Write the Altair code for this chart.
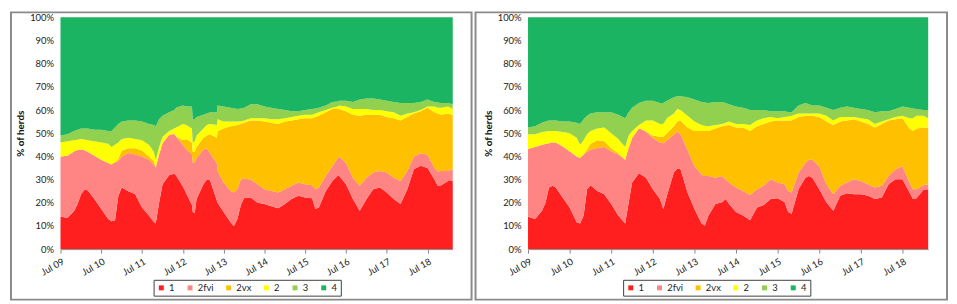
import altair as alt
import pandas as pd

FONT = "Lato"

categories = ["1", "2fvi", "2vx", "2", "3", "4"]
colors = ["#FF1F1F", "#FF8585", "#FFC000", "#FFFF00", "#92D050", "#1BB462"]

# ---- Left panel: upper edge (%) of each band ----
left_dates = [
    "2009-07-01", "2009-09-01", "2009-11-01", "2009-12-01", "2010-01-01", "2010-02-01", "2010-03-01", "2010-05-01", "2010-07-01", "2010-09-01",
    "2010-10-01", "2010-11-01", "2010-12-01", "2011-01-01", "2011-03-01", "2011-05-01", "2011-07-01", "2011-09-01", "2011-10-15", "2011-11-01",
    "2011-12-01", "2012-01-01", "2012-03-01", "2012-04-15", "2012-05-01", "2012-07-01", "2012-08-01", "2012-09-20", "2012-09-28", "2012-10-15",
    "2012-11-01", "2013-01-01", "2013-02-01", "2013-03-01", "2013-05-01", "2013-05-08", "2013-07-01", "2013-09-01", "2013-10-01", "2013-11-01",
    "2013-12-01", "2014-01-01", "2014-03-01", "2014-05-01", "2014-07-01", "2014-09-01", "2014-11-01", "2015-01-01", "2015-03-01", "2015-05-01",
    "2015-07-01", "2015-09-01", "2015-10-01", "2015-11-01", "2016-01-01", "2016-03-01", "2016-04-15", "2016-05-01", "2016-07-01", "2016-09-01",
    "2016-11-01", "2017-01-01", "2017-03-01", "2017-05-01", "2017-07-01", "2017-09-01", "2017-11-01", "2018-01-01", "2018-03-01", "2018-05-01",
    "2018-07-01", "2018-09-01", "2018-10-01", "2018-11-01", "2019-01-01", "2019-02-12",
]
left_top_1 = [
    14.1, 13.4, 16.6, 19.5, 23.7, 25.6, 25.4, 21.6, 17.3, 13.0,
    12.0, 12.3, 23.0, 26.6, 25.0, 23.7, 18.0, 14.5, 11.7, 11.0,
    20.0, 28.0, 32.0, 32.5, 31.8, 27.0, 24.0, 19.0, 16.0, 15.6,
    21.6, 28.0, 30.0, 29.7, 21.0, 20.0, 16.0, 11.6, 10.0, 13.0,
    18.8, 22.3, 22.3, 20.0, 19.5, 18.5, 17.6, 19.5, 21.6, 23.0,
    22.3, 21.9, 17.3, 18.0, 25.0, 29.4, 31.5, 31.5, 28.0, 21.6,
    16.6, 21.6, 25.8, 26.6, 24.4, 21.6, 19.5, 25.8, 34.4, 36.0,
    35.0, 30.0, 27.3, 27.6, 29.4, 29.4,
]
left_top_2fvi = [
    40.0, 40.3, 42.2, 42.8, 43.0, 42.7, 42.0, 40.3, 38.6, 37.2,
    36.5, 37.5, 38.0, 40.0, 41.5, 40.8, 40.0, 38.6, 36.5, 35.0,
    40.8, 45.7, 49.3, 49.7, 48.6, 45.0, 43.0, 41.0, 37.2, 37.5,
    39.3, 43.0, 43.3, 41.5, 37.0, 33.7, 28.7, 25.1, 24.4, 25.8,
    30.0, 30.4, 30.0, 28.0, 25.8, 25.1, 24.4, 25.8, 27.3, 28.7,
    28.0, 27.6, 25.8, 26.6, 31.5, 35.8, 39.0, 40.0, 37.2, 30.8,
    27.3, 30.8, 33.0, 33.7, 33.0, 30.8, 29.4, 33.7, 40.0, 41.2,
    40.8, 35.0, 33.5, 33.7, 33.7, 34.4,
]
left_top_2vx = [
    40.0, 40.3, 42.2, 42.8, 43.0, 42.7, 42.0, 40.3, 38.6, 37.2,
    36.5, 37.5, 39.0, 42.5, 43.5, 43.5, 42.5, 40.0, 38.0, 35.5,
    40.8, 45.7, 49.3, 49.7, 48.6, 47.0, 47.5, 46.0, 42.0, 42.0,
    44.0, 48.0, 49.0, 49.5, 48.0, 51.0, 52.0, 53.0, 53.2, 53.5,
    54.0, 54.5, 55.5, 55.5, 55.0, 54.5, 54.0, 55.0, 55.5, 56.0,
    56.5, 56.5, 57.0, 57.5, 59.0, 60.5, 60.5, 60.5, 59.5, 58.0,
    57.5, 58.0, 58.0, 58.0, 57.0, 56.5, 55.5, 57.0, 58.5, 59.5,
    61.0, 59.0, 58.5, 58.0, 58.5, 58.0,
]
left_top_2 = [
    46.0, 46.5, 47.0, 47.2, 47.5, 47.3, 47.0, 46.5, 46.0, 45.5,
    44.0, 45.0, 46.0, 47.5, 48.0, 47.5, 47.0, 45.0, 42.0, 38.5,
    44.0, 48.5, 51.0, 52.0, 52.5, 54.0, 53.5, 52.0, 46.0, 46.5,
    49.0, 52.0, 53.5, 54.0, 53.5, 56.0, 55.0, 55.0, 55.0, 55.0,
    55.2, 55.5, 56.5, 56.5, 56.5, 56.0, 56.0, 56.5, 57.0, 57.5,
    58.0, 58.0, 58.5, 59.0, 60.0, 61.0, 61.5, 62.0, 61.5, 60.5,
    60.5, 60.5, 60.0, 60.0, 59.5, 59.0, 57.5, 58.5, 59.0, 60.0,
    61.5, 61.5, 61.0, 61.0, 61.5, 60.5,
]
left_top_3 = [
    49.0, 49.5, 51.0, 51.5, 52.0, 52.0, 52.0, 51.5, 51.5, 51.0,
    51.0, 52.5, 54.0, 55.0, 55.5, 55.5, 55.0, 54.0, 53.5, 53.0,
    56.0, 57.5, 59.0, 60.0, 61.0, 62.0, 61.5, 61.5, 56.0, 56.0,
    57.0, 58.0, 58.5, 59.0, 59.0, 62.0, 61.5, 61.0, 60.8, 60.5,
    60.7, 61.0, 62.5, 62.5, 61.5, 61.0, 60.5, 60.0, 59.5, 59.5,
    60.0, 60.5, 60.7, 61.0, 62.0, 63.5, 63.7, 64.0, 64.0, 63.5,
    64.5, 65.0, 65.0, 64.5, 64.0, 63.5, 63.0, 63.0, 63.0, 63.5,
    64.5, 63.5, 63.2, 63.0, 63.0, 62.5,
]

# ---- Right panel ----
right_dates = [
    "2009-07-01", "2009-09-01", "2009-11-01", "2009-12-01", "2010-01-01", "2010-02-01", "2010-03-01", "2010-05-01", "2010-07-01", "2010-09-01",
    "2010-10-01", "2010-11-01", "2010-12-01", "2011-01-01", "2011-03-01", "2011-05-01", "2011-07-01", "2011-09-01", "2011-11-01", "2011-12-01",
    "2012-01-01", "2012-03-01", "2012-05-01", "2012-07-01", "2012-09-01", "2012-10-01", "2012-11-01", "2013-01-01", "2013-02-01", "2013-03-01",
    "2013-05-01", "2013-07-01", "2013-09-01", "2013-10-01", "2013-11-01", "2014-01-01", "2014-03-01", "2014-04-01", "2014-05-01", "2014-07-01",
    "2014-09-01", "2014-11-01", "2015-01-01", "2015-03-01", "2015-05-01", "2015-07-01", "2015-09-01", "2015-10-01", "2015-11-01", "2016-01-01",
    "2016-03-01", "2016-04-01", "2016-05-01", "2016-07-01", "2016-09-01", "2016-11-01", "2017-01-01", "2017-03-01", "2017-05-01", "2017-07-01",
    "2017-09-01", "2017-11-01", "2018-01-01", "2018-03-01", "2018-05-01", "2018-07-01", "2018-09-01", "2018-10-01", "2018-11-01", "2019-01-01",
    "2019-02-12",
]
right_top_1 = [
    14.0, 13.0, 16.6, 20.0, 26.6, 27.3, 26.6, 22.3, 18.0, 11.6,
    11.0, 14.5, 25.8, 27.6, 25.1, 23.7, 19.5, 14.5, 11.0, 20.0,
    28.7, 32.7, 30.8, 25.8, 21.6, 17.3, 23.0, 33.0, 34.8, 34.4,
    24.4, 17.3, 11.0, 10.2, 14.5, 19.5, 20.2, 21.6, 19.5, 16.0,
    14.5, 12.4, 18.0, 19.0, 21.6, 21.9, 20.2, 16.0, 15.3, 25.8,
    30.8, 31.5, 30.8, 25.8, 20.2, 16.6, 23.0, 24.1, 23.7, 23.7,
    23.0, 21.6, 22.3, 28.0, 30.1, 30.1, 24.4, 21.6, 21.9, 25.6,
    25.8,
]
right_top_2fvi = [
    43.2, 44.0, 45.0, 45.3, 45.7, 46.0, 46.0, 44.3, 42.2, 40.0,
    39.3, 40.8, 42.0, 42.9, 43.6, 44.0, 42.2, 40.8, 38.6, 43.6,
    47.9, 52.1, 50.7, 47.9, 46.0, 45.7, 46.9, 49.3, 50.7, 49.6,
    42.9, 35.8, 32.2, 31.5, 31.5, 30.8, 31.5, 30.0, 28.7, 26.6,
    25.1, 23.3, 25.8, 27.3, 30.1, 28.7, 28.0, 25.1, 24.4, 33.0,
    37.2, 38.5, 38.6, 35.8, 28.0, 23.7, 27.3, 28.7, 30.1, 29.4,
    28.0, 26.6, 27.3, 31.5, 34.4, 35.8, 28.7, 25.8, 25.8, 27.6,
    28.0,
]
right_top_2vx = [
    43.2, 44.0, 45.0, 45.3, 45.7, 46.0, 46.0, 44.3, 42.2, 40.0,
    39.3, 40.8, 43.0, 45.5, 47.0, 46.5, 43.5, 41.5, 38.6, 43.6,
    47.9, 52.1, 50.7, 49.0, 48.5, 48.5, 50.0, 53.0, 55.0, 55.5,
    52.5, 51.0, 51.0, 51.0, 51.0, 52.0, 53.0, 53.3, 53.5, 52.5,
    52.5, 51.0, 53.0, 54.0, 55.0, 55.5, 55.5, 55.5, 55.5, 57.0,
    57.5, 57.5, 57.5, 57.0, 55.0, 53.5, 55.0, 55.5, 56.0, 55.0,
    54.0, 52.5, 54.0, 55.5, 56.0, 56.5, 52.0, 51.0, 52.0, 52.5,
    52.5,
]
right_top_2 = [
    49.5, 49.5, 50.5, 50.7, 51.0, 51.0, 51.0, 50.5, 50.0, 48.0,
    45.0, 47.0, 49.5, 51.0, 52.0, 52.5, 50.0, 47.5, 44.0, 49.0,
    51.0, 53.5, 55.5, 55.5, 54.0, 54.0, 56.5, 58.5, 60.5, 60.0,
    57.5, 55.0, 53.5, 53.2, 53.0, 53.5, 54.0, 54.5, 55.0, 54.0,
    54.0, 53.5, 55.5, 56.5, 57.0, 56.5, 57.0, 57.2, 57.5, 58.5,
    58.5, 58.5, 58.5, 58.5, 57.5, 55.5, 57.0, 57.0, 57.0, 56.5,
    56.0, 54.0, 55.0, 56.0, 57.0, 57.5, 56.5, 56.5, 57.5, 57.5,
    56.5,
]
right_top_3 = [
    52.5, 53.0, 54.5, 55.0, 55.5, 55.5, 55.5, 55.0, 55.0, 54.5,
    54.0, 56.0, 57.5, 58.5, 59.0, 59.0, 59.0, 58.0, 56.5, 59.0,
    61.0, 63.0, 64.0, 64.0, 63.0, 63.0, 64.0, 65.5, 66.0, 66.0,
    65.5, 64.5, 63.5, 63.2, 63.0, 63.5, 63.5, 63.0, 62.5, 61.5,
    61.0, 60.0, 60.0, 60.0, 59.5, 59.5, 59.5, 59.2, 59.0, 62.0,
    63.0, 62.5, 62.0, 62.0, 61.0, 60.0, 61.0, 61.5, 61.0, 60.5,
    60.0, 59.0, 59.5, 59.5, 60.5, 61.5, 61.0, 60.7, 60.5, 60.0,
    60.0,
]

tick_years = [2009, 2010, 2011, 2012, 2013, 2014, 2015, 2016, 2017, 2018]


def to_long(dates, tops):
    # tops: upper edges of bands 1..3; band "4" fills the rest up to 100 %
    rows = []
    for i, d in enumerate(dates):
        edges = [0.0] + [t[i] for t in tops] + [100.0]
        for k, cat in enumerate(categories):
            rows.append({"date": d, "cat": cat, "k": k, "share": edges[k + 1] - edges[k]})
    return pd.DataFrame(rows)


def panel(df, w, h, frame_left, frame_right, legend_x):
    areas = alt.Chart(df).mark_area(interpolate="linear").encode(
        x=alt.X(
            "date:T",
            scale=alt.Scale(domain=[alt.DateTime(year=2009, month=7, date=1),
                                    alt.DateTime(year=2019, month=2, date=12)]),
            axis=alt.Axis(
                values=[alt.DateTime(year=y, month=7, date=1) for y in tick_years],
                format="%b %y", labelAngle=330, labelAlign="right", labelBaseline="top",
                labelPadding=3, tickSize=4, tickColor="#868686", domainColor="#868686",
                grid=False, title=None, labelFont=FONT, labelFontSize=9.5, labelColor="#222222",
            ),
        ),
        y=alt.Y(
            "share:Q", stack="normalize",
            axis=alt.Axis(
                format="%", values=[i / 10 for i in range(11)], grid=False, domain=False,
                ticks=False, labelPadding=7, labelFont=FONT, labelFontSize=9.5, labelColor="#222222",
                title="% of herds", titleFont=FONT, titleFontSize=10, titleFontWeight="bold",
                titleAngle=270, titleX=-40, titleY=h / 2, titleAlign="center", titleBaseline="middle",
                titleColor="#111111",
            ),
        ),
        color=alt.Color(
            "cat:N",
            scale=alt.Scale(domain=categories, range=colors),
            legend=alt.Legend(
                orient="none", legendX=legend_x, legendY=h + 31, direction="horizontal", columns=6,
                title=None, symbolType="square", symbolSize=25, symbolStrokeWidth=0,
                labelFont=FONT, labelFontSize=9.5, labelColor="#222222", labelOffset=3,
                columnPadding=10, padding=3, strokeColor="#404040", fillColor="white",
            ),
        ),
        order=alt.Order("k:Q", sort="ascending"),
    )
    frame = alt.Chart(pd.DataFrame({"f": [0]})).mark_rect(
        fillOpacity=0, stroke="#8a8a8a", strokeWidth=2
    ).encode(
        x=alt.value(frame_left), x2=alt.value(w + frame_right),
        y=alt.value(-5), y2=alt.value(h + 51),
    )
    return alt.layer(areas, frame).properties(width=w, height=h)


left_df = to_long(left_dates, [left_top_1, left_top_2fvi, left_top_2vx, left_top_2, left_top_3])
right_df = to_long(right_dates, [right_top_1, right_top_2fvi, right_top_2vx, right_top_2, right_top_3])

left = panel(left_df, 396, 234, -50, 19, 94)
right = panel(right_df, 404, 234, -53, 19, 96)

chart = alt.hconcat(left, right, spacing=0).resolve_legend(color="independent").properties(
    padding={"left": 1, "top": 1, "right": 0, "bottom": 0}
).configure_view(stroke="transparent")

chart.save("out.html", embed_options={"renderer": "svg", "actions": False})
